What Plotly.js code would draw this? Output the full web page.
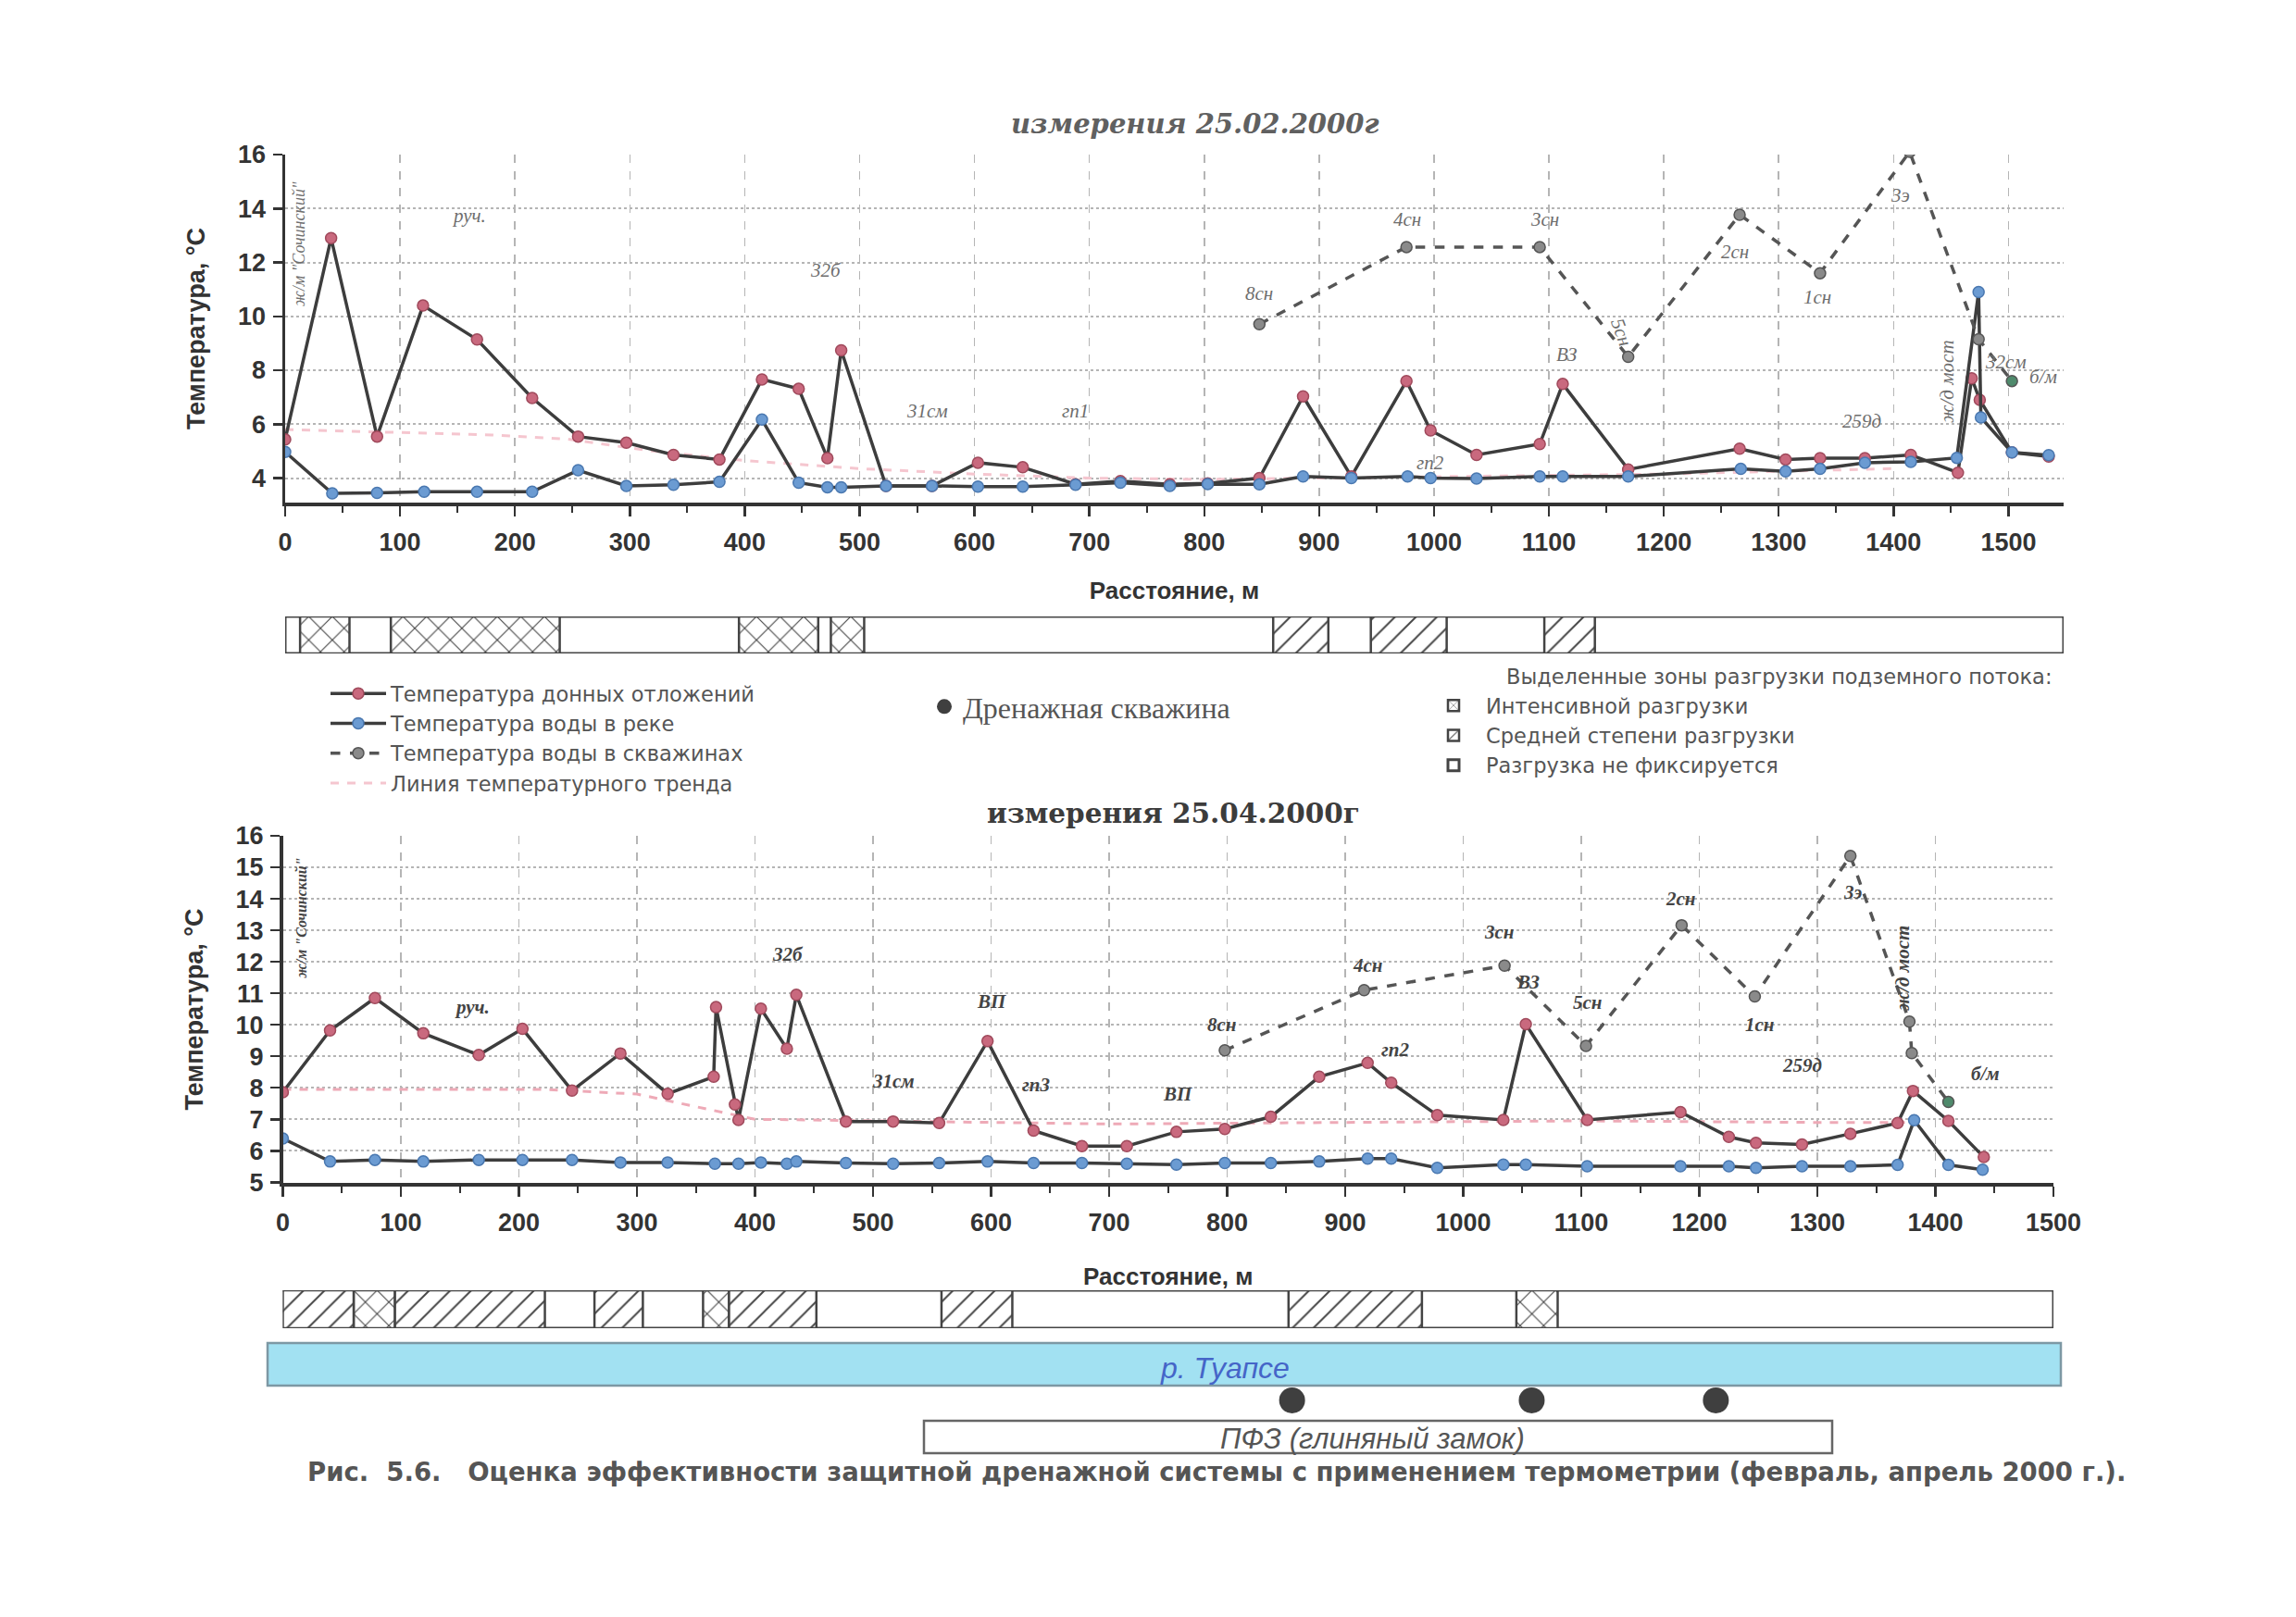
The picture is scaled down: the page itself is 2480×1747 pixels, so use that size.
<!DOCTYPE html>
<html>
<head>
<meta charset="utf-8">
<script src="https://cdn.plot.ly/plotly-3.0.1.min.js"></script>
<style>html,body{margin:0;padding:0;background:#fff}#chart{width:2480px;height:1747px}</style>
</head>
<body>
<div id="chart"></div>
<script>
// ---------- DATA: measurement of 25.02.2000 ----------
const febSedM = [0,40,80,120,167,215,255,297,338,378,415,447,472,484,523,563,603,642,688,727,770,803,848,886,928,976,997,1037,1092,1112,1169,1266,1306,1336,1375,1415,1456,1468,1475,1503,1535];
const febSedT = [5.43,12.9,5.54,10.4,9.14,6.97,5.54,5.31,4.86,4.69,7.66,7.31,4.74,8.74,3.71,3.71,4.57,4.4,3.77,3.89,3.77,3.8,4.0,7.03,4.06,7.6,5.77,4.86,5.26,7.49,4.32,5.09,4.69,4.74,4.74,4.86,4.2,7.7,6.9,4.95,4.8];
const febRivM = [0,41,80,121,167,215,255,297,338,378,415,447,472,484,523,563,603,642,688,727,770,803,848,886,928,977,997,1037,1092,1112,1169,1267,1306,1336,1375,1415,1455,1474,1476,1503,1535];
const febRivT = [4.97,3.43,3.45,3.49,3.49,3.49,4.29,3.71,3.75,3.86,6.17,3.83,3.66,3.66,3.71,3.71,3.68,3.68,3.75,3.83,3.71,3.78,3.77,4.06,4.0,4.06,4.0,3.98,4.06,4.06,4.06,4.34,4.25,4.34,4.57,4.6,4.75,10.9,6.25,4.95,4.85];
const febWellM = [848,976,1092,1169,1266,1336,1414,1474,1503];
const febWellT = [9.71,12.57,12.57,8.5,13.77,11.6,16.1,9.15,7.6];
const febTrendM = [0,180,245,320,400,500,600,700,800,900,1000,1100,1200,1300,1400];
const febTrendT = [5.8,5.6,5.45,5.0,4.65,4.35,4.15,4.0,3.95,4.0,4.05,4.1,4.15,4.25,4.35];
const febIntStart = [13,92,395,475];
const febIntEnd   = [56,239,464,504];
const febMedStart = [860,945,1096];
const febMedEnd   = [908,1011,1140];
const febLabels = ['руч.','32б','31см','гп1','8сн','4сн','3сн','5сн','2сн','1сн','3э','ВЗ','гп2','259д','32см','б/м'];
const febLabelM = [160,471,559,688,848,977,1096,1163,1262,1334,1406,1116,997,1372,1498,1530];
const febLabelT = [13.75,11.7,6.5,6.5,10.85,13.6,13.6,9.4,12.4,10.7,14.5,8.6,4.55,6.1,8.3,7.75];

// ---------- DATA: measurement of 25.04.2000 ----------
const aprSedM = [0,40,78,119,166,203,245,286,326,365,367,383,386,405,427,435,477,517,556,597,636,677,715,757,798,837,878,919,939,978,1034,1053,1105,1184,1225,1248,1287,1328,1368,1381,1411,1441];
const aprSedT = [7.86,9.82,10.85,9.73,9.04,9.87,7.91,9.09,7.81,8.35,10.56,7.47,6.98,10.51,9.24,10.95,6.93,6.93,6.88,9.48,6.64,6.15,6.15,6.6,6.69,7.08,8.35,8.79,8.16,7.13,6.98,10.02,6.98,7.23,6.44,6.25,6.2,6.54,6.88,7.9,6.95,5.8];
const aprRivM = [0,40,78,119,166,203,245,286,326,366,386,405,427,435,477,517,556,597,636,677,715,757,798,837,878,919,939,978,1034,1053,1105,1184,1225,1248,1287,1328,1368,1382,1411,1440];
const aprRivT = [6.39,5.66,5.71,5.66,5.71,5.71,5.71,5.63,5.63,5.59,5.59,5.63,5.59,5.66,5.61,5.59,5.61,5.66,5.61,5.61,5.59,5.56,5.61,5.61,5.66,5.75,5.75,5.46,5.56,5.56,5.51,5.51,5.51,5.46,5.51,5.51,5.55,6.97,5.55,5.4];
const aprWellM = [798,916,1035,1104,1185,1247,1328,1378,1380,1411];
const aprWellT = [9.19,11.1,11.88,9.33,13.16,10.9,15.36,10.1,9.1,7.55];
const aprTrendM = [0,220,300,350,400,500,700,900,1100,1300,1380];
const aprTrendT = [7.95,7.95,7.8,7.4,7.0,6.95,6.85,6.9,6.95,6.9,6.9];
const aprIntStart = [60,356,1045];
const aprIntEnd   = [95,378,1080];
const aprMedStart = [0,95,264,378,558,852];
const aprMedEnd   = [60,222,305,452,618,965];
const aprLabels = ['руч.','32б','31см','ВП','гп3','ВП','8сн','4сн','гп2','3сн','ВЗ','5сн','2сн','1сн','3э','259д','б/м'];
const aprLabelM = [160,428,517,600,638,758,795,919,942,1030,1055,1105,1184,1251,1330,1287,1442];
const aprLabelT = [10.55,12.25,8.2,10.75,8.1,7.8,10.0,11.9,9.2,12.95,11.35,10.7,14.0,10.0,14.2,8.7,8.45];

// drainage wells (m along the river)
const drainWellM = [855,1058,1214];

// ---------- STYLE ----------
const W = 2480, H = 1747;
const lineCol = '#3d3d3d';
const redMk = '#c9697e', blueMk = '#6b9bd2', grayMk = '#8a8a8a', greenMk = '#4f8a6c';
const tickFont = {family:'Liberation Sans Narrow, Liberation Sans, Arial', size:27, color:'#333', weight:'bold'};
const titleFont = {family:'Liberation Sans, Arial', size:26, color:'#333', weight:'bold'};
const px = v => v / W, py = v => 1 - v / H;

const topX = {domain:[px(308), px(2229)], range:[0,1548]};
const topY = {domain:[py(543), py(167)], range:[3.09,16]};
const botX = {domain:[px(305.5), px(2218)], range:[0,1500]};
const botY = {domain:[py(1278), py(903)], range:[4.98,16]};

function seriesTraces(xa, ya, sedM, sedT, rivM, rivT, wellM, wellT, trM, trT, showLeg, trendCol) {
  const wellColors = wellM.map((_, i) => i === wellM.length - 1 ? greenMk : grayMk);
  return [
    {type:'scatter', mode:'lines', x:trM, y:trT, xaxis:xa, yaxis:ya, name:'Линия температурного тренда',
     line:{color:trendCol, width:3, dash:'dash'}, showlegend:showLeg, legend:'legend', legendrank:4, hoverinfo:'skip'},
    {type:'scatter', mode:'lines+markers', x:sedM, y:sedT, xaxis:xa, yaxis:ya, name:'Температура донных отложений',
     line:{color:lineCol, width:3.5}, marker:{color:redMk, size:12, line:{color:'#a04a5c', width:1.5}}, showlegend:showLeg, legendrank:1},
    {type:'scatter', mode:'lines+markers', x:rivM, y:rivT, xaxis:xa, yaxis:ya, name:'Температура воды в реке',
     line:{color:lineCol, width:3.5}, marker:{color:blueMk, size:12, line:{color:'#4a78b0', width:1.5}}, showlegend:showLeg, legendrank:2},
    {type:'scatter', mode:'lines+markers', x:wellM, y:wellT, xaxis:xa, yaxis:ya, name:'Температура воды в скважинах',
     line:{color:'#555', width:3.5, dash:'dash'}, marker:{color:wellColors, size:12, line:{color:'#555', width:1.5}}, showlegend:showLeg, legendrank:3}
  ];
}

function zoneTraces(xa, ya, rangeMax, intS, intE, medS, medE, showLeg) {
  const common = {type:'bar', orientation:'h', xaxis:xa, yaxis:ya, width:1, legend:'legend3', showlegend:showLeg, hoverinfo:'skip'};
  return [
    Object.assign({}, common, {name:'Разгрузка не фиксируется', y:[0], base:[0], x:[rangeMax], legendrank:3,
      marker:{color:'white', line:{color:'#444', width:3}}}),
    Object.assign({}, common, {name:'Интенсивной разгрузки', y:intS.map(() => 0), base:intS, x:intS.map((s, i) => intE[i] - s), legendrank:1,
      marker:{color:'white', line:{color:'#444', width:2.5}, pattern:{shape:'x', fgcolor:'#444', bgcolor:'white', size:18, solidity:0.12}}}),
    Object.assign({}, common, {name:'Средней степени разгрузки', y:medS.map(() => 0), base:medS, x:medS.map((s, i) => medE[i] - s), legendrank:2,
      marker:{color:'white', line:{color:'#444', width:2.5}, pattern:{shape:'/', fgcolor:'#444', bgcolor:'white', size:16, solidity:0.12}}})
  ];
}

const data = [].concat(
  seriesTraces('x', 'y', febSedM, febSedT, febRivM, febRivT, febWellM, febWellT, febTrendM, febTrendT, true, '#f5c6cf'),
  seriesTraces('x2', 'y2', aprSedM, aprSedT, aprRivM, aprRivT, aprWellM, aprWellT, aprTrendM, aprTrendT, false, '#eeaab7'),
  zoneTraces('x3', 'y3', 1548, febIntStart, febIntEnd, febMedStart, febMedEnd, true),
  zoneTraces('x4', 'y4', 1500, aprIntStart, aprIntEnd, aprMedStart, aprMedEnd, false),
  [{type:'scatter', mode:'markers', x:drainWellM, y:drainWellM.map(() => 0), xaxis:'x5', yaxis:'y5',
    name:'Дренажная скважина', legend:'legend2', cliponaxis:false,
    marker:{color:'#3f3f3f', size:28}, hoverinfo:'skip'}]
);

function chartX(base, anchor, titleText, standoff) {
  return Object.assign({}, base, {anchor:anchor, dtick:100, tick0:0, ticks:'outside', ticklen:11, tickwidth:2.5, tickcolor:'#333',
    showline:true, linecolor:'#333', linewidth:3.5, showgrid:true, gridcolor:'#b5b5b5', griddash:'dash', gridwidth:1.5,
    zeroline:false, tickfont:tickFont, ticklabelstandoff:5,
    minor:{dtick:50, ticks:'outside', ticklen:7, tickwidth:2, tickcolor:'#333', showgrid:false},
    title:{text:titleText, font:titleFont, standoff:standoff}});
}
function chartY(base, anchor, dt) {
  return Object.assign({}, base, {anchor:anchor, dtick:dt, tick0:0, ticks:'outside', ticklen:10, tickwidth:2.5, tickcolor:'#333',
    showline:true, linecolor:'#333', linewidth:3.5, showgrid:true, gridcolor:'#b5b5b5', griddash:'dot', gridwidth:2,
    zeroline:false, tickfont:tickFont, ticklabelstandoff:2,
    title:{text:'Температура, °С', font:Object.assign({}, titleFont, {size:27}), standoff:28}});
}
const hidden = (base, anchor) => Object.assign({}, base, {anchor:anchor, visible:false, fixedrange:true});

const annFontTop = {family:'Liberation Serif, DejaVu Serif', size:21, color:'#6e6e6e', style:'italic'};
const annFontBot = {family:'Liberation Serif, DejaVu Serif', size:21, color:'#444', style:'italic', weight:'bold'};
const annotations = [];
febLabels.forEach((t, i) => annotations.push({text:t, x:febLabelM[i], y:febLabelT[i], xref:'x', yref:'y', showarrow:false,
  xanchor:'center', yanchor:'middle', font:annFontTop, textangle: t === '5сн' ? 70 : 0}));
aprLabels.forEach((t, i) => annotations.push({text:t, x:aprLabelM[i], y:aprLabelT[i], xref:'x2', yref:'y2', showarrow:false,
  xanchor:'center', yanchor:'middle', font:annFontBot}));
const paperText = (text, x, y, font, xanchor) => ({text:text, x:px(x), y:py(y), xref:'paper', yref:'paper', showarrow:false,
  xanchor:xanchor || 'center', yanchor:'middle', font:font});
annotations.push(
  {text:'ж/д мост', x:1446, y:7.6, xref:'x', yref:'y', showarrow:false, textangle:-90, font:annFontTop},
  {text:'ж/д мост', x:1372, y:11.8, xref:'x2', yref:'y2', showarrow:false, textangle:-90, font:annFontBot},
  {text:'ж/м "Сочинский"', x:12, y:12.7, xref:'x', yref:'y', showarrow:false, textangle:-90, font:Object.assign({}, annFontTop, {size:18})},
  {text:'ж/м "Сочинский"', x:16, y:13.4, xref:'x2', yref:'y2', showarrow:false, textangle:-90, font:Object.assign({}, annFontBot, {size:16})},
  paperText('измерения 25.02.2000г', 1291, 134, {family:'DejaVu Serif, Liberation Serif', size:29, color:'#606060', style:'italic', weight:'bold'}),
  paperText('измерения 25.04.2000г', 1267, 879, {family:'DejaVu Serif, Liberation Serif', size:29.5, color:'#3c3c3c', weight:'bold'}),
  paperText('р. Туапсе', 1323, 1478, {family:'Liberation Sans, Arial', size:32, color:'#4565c8', style:'italic'}),
  paperText('ПФЗ (глиняный замок)', 1482, 1554, {family:'Liberation Sans, Arial', size:31, color:'#555', style:'italic'}),
  paperText('Рис.  5.6.   Оценка эффективности защитной дренажной системы с применением термометрии (февраль, апрель 2000 г.).',
    1314, 1590, {family:'DejaVu Sans, Liberation Sans', size:27.5, color:'#555', weight:'bold'}),
  paperText('Выделенные зоны разгрузки подземного потока:', 1625, 731, {family:'DejaVu Sans, Liberation Sans', size:22.5, color:'#555'}, 'left')
);

const shapes = [
  {type:'rect', xref:'paper', yref:'paper', x0:px(289), x1:px(2226), y0:py(1497), y1:py(1451),
   fillcolor:'#a2e1f2', line:{color:'#7d98a4', width:2.5}, layer:'below'},
  {type:'rect', xref:'paper', yref:'paper', x0:px(998), x1:px(1979), y0:py(1570), y1:py(1535),
   fillcolor:'white', line:{color:'#666', width:2.5}, layer:'below'}
];

const legFont = {family:'DejaVu Sans, Liberation Sans', size:22.5, color:'#555'};
const layout = {
  width:W, height:H, margin:{l:0, r:0, t:0, b:0}, paper_bgcolor:'white', plot_bgcolor:'rgba(0,0,0,0)',
  barmode:'overlay', showlegend:true, hovermode:false,
  font:{family:'Liberation Sans, Arial', color:'#333'},
  xaxis:chartX(topX, 'y', 'Расстояние, м', 30),
  yaxis:chartY(topY, 'x', 2),
  xaxis2:chartX(botX, 'y2', 'Расстояние, м', 36),
  yaxis2:chartY(botY, 'x2', 1),
  xaxis3:hidden(topX, 'y3'),
  yaxis3:hidden({domain:[py(706), py(666)], range:[-0.5,0.5]}, 'x3'),
  xaxis4:hidden(botX, 'y4'),
  yaxis4:hidden({domain:[py(1435), py(1394)], range:[-0.5,0.5]}, 'x4'),
  xaxis5:hidden(botX, 'y5'),
  yaxis5:hidden({domain:[py(1535), py(1491)], range:[-1,1]}, 'x5'),
  legend:{x:px(352), y:py(728), xanchor:'left', yanchor:'top', font:legFont, bgcolor:'rgba(0,0,0,0)',
          tracegroupgap:0, itemwidth:60, traceorder:'normal'},
  legend2:{x:px(1000), y:py(736), xanchor:'left', yanchor:'top', bgcolor:'rgba(0,0,0,0)',
           font:{family:'Liberation Serif, DejaVu Serif', size:32, color:'#555'}},
  legend3:{x:px(1535), y:py(741), xanchor:'left', yanchor:'top', bgcolor:'rgba(0,0,0,0)', font:legFont,
           tracegroupgap:0, itemwidth:60, traceorder:'normal'},
  annotations:annotations, shapes:shapes
};

Plotly.newPlot('chart', data, layout, {staticPlot:true, displayModeBar:false});
</script>
</body>
</html>
